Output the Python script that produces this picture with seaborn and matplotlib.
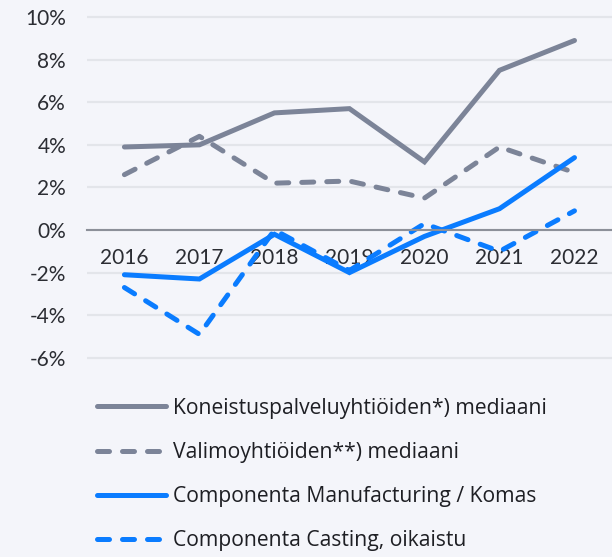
import pandas as pd
import seaborn as sns
import matplotlib.pyplot as plt
from matplotlib.ticker import FuncFormatter

# data (percent)
years = [2016, 2017, 2018, 2019, 2020, 2021, 2022]
koneistus = [3.9, 4.0, 5.5, 5.7, 3.2, 7.5, 8.9]
valimo = [2.6, 4.4, 2.2, 2.3, 1.5, 3.9, 2.7]
comp_manuf = [-2.1, -2.3, -0.2, -2.0, -0.3, 1.0, 3.4]
comp_casting = [-2.7, -4.9, 0.0, -1.9, 0.3, -1.0, 0.9]

names = [
    "Koneistuspalveluyhtiöiden*) mediaani",
    "Valimoyhtiöiden**) mediaani",
    "Componenta Manufacturing / Komas",
    "Componenta Casting, oikaistu",
]
series = [koneistus, valimo, comp_manuf, comp_casting]

df = pd.concat(
    [pd.DataFrame({"Vuosi": years, "Arvo": vals, "Sarja": name}) for name, vals in zip(names, series)],
    ignore_index=True,
)

grey = "#7c8498"
blue = "#0a7cff"
bg = "#f4f5fa"

sns.set_theme(style="white")
plt.rcParams["font.family"] = ["Lato", "DejaVu Sans"]

fig = plt.figure(figsize=(6.12, 5.57), dpi=100, facecolor=bg)
ax = fig.add_axes([0.142, 0.35, 0.858, 0.627])
ax.set_facecolor(bg)

palette = {names[0]: grey, names[1]: grey, names[2]: blue, names[3]: blue}
dashes = {names[0]: "", names[1]: (2.4, 2.6), names[2]: "", names[3]: (2.4, 2.6)}

sns.lineplot(
    data=df, x="Vuosi", y="Arvo", hue="Sarja", style="Sarja",
    palette=palette, dashes=dashes, hue_order=names, style_order=names,
    linewidth=3.6, ax=ax,
)
for line in ax.get_lines():
    line.set_dash_capstyle("round")
    line.set_solid_capstyle("round")
    line.set_solid_joinstyle("miter")

handles, labels = ax.get_legend_handles_labels()
ax.get_legend().remove()
for h in handles:
    h.set_dash_capstyle("round")
    h.set_solid_capstyle("round")

ax.set_xlim(2015.5, 2022.5)
ax.set_ylim(-6.2, 10.2)
ax.set_yticks(range(-6, 11, 2))
ax.yaxis.set_major_formatter(FuncFormatter(lambda v, p: f"{v:.0f}%"))
ax.set_xticks(years)
ax.set_xlabel("")
ax.set_ylabel("")

ax.set_axisbelow(True)
ax.grid(axis="y", color="#e3e5ea", linewidth=1.6)
ax.grid(axis="x", visible=False)
for side in ["top", "right", "left"]:
    ax.spines[side].set_visible(False)
ax.spines["bottom"].set_position(("data", 0))
ax.spines["bottom"].set_color("#8c9099")
ax.spines["bottom"].set_linewidth(1.5)

ax.tick_params(axis="x", length=0, pad=13, labelsize=15, labelcolor="#2b2d33")
ax.tick_params(axis="y", length=0, pad=15, labelsize=15, labelcolor="#2b2d33")

fig.legend(
    handles, labels, loc="upper left", bbox_to_anchor=(0.128, 0.32),
    frameon=False, prop={"family": ["Open Sans", "DejaVu Sans"], "size": 15.2},
    handlelength=3.25, handletextpad=0.33, labelspacing=1.1, labelcolor="#1e1f24",
)

fig.savefig("out.png", dpi=100, facecolor=bg)
